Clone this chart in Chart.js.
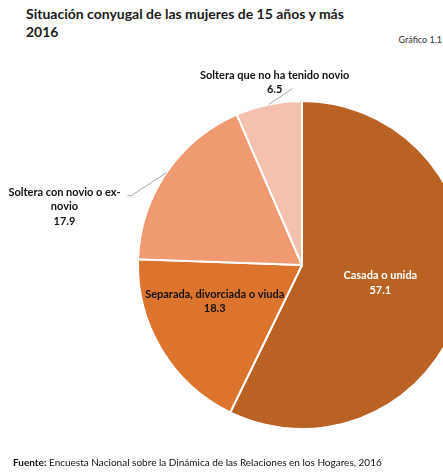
<!DOCTYPE html>
<html lang="es">
<head>
  <meta charset="UTF-8">
  <title>Situación conyugal</title>
  <script src="https://cdn.jsdelivr.net/npm/chart.js"></script>
  <style>
    body { margin: 0; width: 443px; height: 472px; overflow: hidden; background: #fff; font-family: Lato, "Open Sans", sans-serif; position: relative; }
    .title { position: absolute; left: 26px; top: 5px; font-size: 14px; font-weight: bold; color: #1a1a1a; line-height: 18px; }
    .num { position: absolute; right: 1px; top: 34px; font-size: 9px; color: #333; }
    .src { position: absolute; left: 13px; top: 456px; font-size: 10px; color: #111; white-space: nowrap; }
    #wrap { position: absolute; left: 0; top: 0; width: 604px; height: 472px; }
  </style>
</head>
<body>
  <div class="title">Situación conyugal de las mujeres de 15 años y más<br>2016</div>
  <div class="num">Gráfico 1.1</div>
  <div id="wrap"><canvas id="pie" width="604" height="472"></canvas></div>
  <div class="src"><b>Fuente:</b> Encuesta Nacional sobre la Dinámica de las Relaciones en los Hogares, 2016</div>

  <script>
    const labels = ['Casada o unida', 'Separada, divorciada o viuda', 'Soltera con novio o ex-novio', 'Soltera que no ha tenido novio'];
    const values = [57.1, 18.3, 17.9, 6.5];
    const colors = ['#ba6224', '#dd742e', '#f09a72', '#f5c1af'];

    // how each label is drawn: text lines, inside/outside, offsets
    const labelLines = [
      ['Casada o unida'],
      ['Separada, divorciada o viuda'],
      ['Soltera con novio o ex-', 'novio'],
      ['Soltera que no ha tenido novio']
    ];
    const labelStyle = [
      { inside: true, r: 0.49, dx: 0, dy: 0, color: '#fff' },
      { inside: true, r: 0.55, dx: -10, dy: -10, color: '#111' },
      { inside: false, dx: -102, dy: 34, color: '#111', line: [-35, 23, -39, 23] },
      { inside: false, dx: 6, dy: -22, color: '#111', line: [24, -16] }
    ];

    const labelPlugin = {
      id: 'pieLabels',
      afterDatasetsDraw(chart) {
        const ctx = chart.ctx;
        const meta = chart.getDatasetMeta(0);
        ctx.save();
        ctx.font = 'bold 11px Lato, "Open Sans", sans-serif';
        ctx.textAlign = 'center';
        ctx.textBaseline = 'middle';
        meta.data.forEach((arc, i) => {
          const st = labelStyle[i];
          const mid = (arc.startAngle + arc.endAngle) / 2;
          let x, y;
          if (st.inside) {
            x = arc.x + Math.cos(mid) * arc.outerRadius * st.r + st.dx;
            y = arc.y + Math.sin(mid) * arc.outerRadius * st.r + st.dy;
          } else {
            const ex = arc.x + Math.cos(mid) * arc.outerRadius;
            const ey = arc.y + Math.sin(mid) * arc.outerRadius;
            ctx.strokeStyle = '#a6a6a6';
            ctx.lineWidth = 1;
            ctx.beginPath();
            ctx.moveTo(ex, ey);
            for (let k = 0; k < st.line.length; k += 2) ctx.lineTo(ex + st.line[k], ey + st.line[k + 1]);
            ctx.stroke();
            x = ex + st.dx;
            y = ey + st.dy;
          }
          const lines = labelLines[i].concat([values[i].toFixed(1)]);
          const lh = 14.5;
          const top = y - (lines.length - 1) * lh / 2;
          ctx.fillStyle = st.color;
          lines.forEach((t, k) => ctx.fillText(t, x, top + k * lh));
        });
        ctx.restore();
      }
    };

    new Chart(document.getElementById('pie'), {
      type: 'pie',
      data: {
        labels: labels,
        datasets: [{
          data: values,
          backgroundColor: colors,
          borderColor: '#ffffff',
          borderWidth: 2
        }]
      },
      options: {
        responsive: false,
        animation: false,
        layout: { padding: { top: 100, bottom: 42, left: 137, right: 137 } },
        plugins: { legend: { display: false }, tooltip: { enabled: false } }
      },
      plugins: [labelPlugin]
    });
  </script>
</body>
</html>
